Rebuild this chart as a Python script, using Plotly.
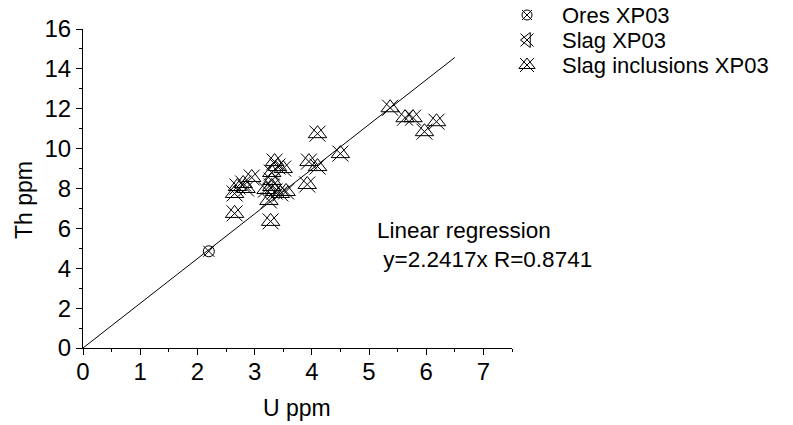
import plotly.graph_objects as go

# ---- data ----
ores_u = [2.2]
ores_th = [4.85]

slag_u = []
slag_th = []

incl_u = [2.65, 2.70, 2.80, 2.85, 2.95, 2.65,
          3.20, 3.25, 3.30, 3.30, 3.35, 3.40, 3.35, 3.45, 3.50, 3.55, 3.28, 3.30,
          3.92, 3.95, 4.10, 4.10, 4.50,
          5.37, 5.63, 5.77, 5.97, 6.18]
incl_th = [7.75, 8.10, 8.25, 8.00, 8.55, 6.75,
           7.95, 7.40, 8.80, 8.40, 9.35, 9.10, 7.85, 7.75, 9.00, 7.85, 6.35, 8.10,
           8.20, 9.35, 9.10, 10.75, 9.75,
           12.05, 11.55, 11.55, 10.85, 11.35]

slope = 2.2417
r_value = 0.8741
fit_x = [0, 6.5]
fit_y = [slope * v for v in fit_x]

legend_labels = ["Ores XP03", "Slag XP03", "Slag inclusions XP03"]
x_title = "U ppm"
y_title = "Th ppm"

FONT = "Liberation Sans, Arial, sans-serif"
W, H = 793, 425
L, R, T, B = 83, 5, 5, 77
pw, ph = W - L - R, H - T - B
x_end_px, y_top_px = 512, 29
xdom = [0, (x_end_px - L) / pw]
ydom = [0, (H - B - y_top_px) / ph]

def px_to_paper(xp, yp):
    return (xp - L) / pw, (H - B - yp) / ph

fig = go.Figure()

fig.add_trace(go.Scatter(x=fit_x, y=fit_y, mode="lines",
                         line=dict(color="black", width=1), showlegend=False))

def add_pts(xs, ys, symbols, size, xa="x", ya="y"):
    for s in symbols:
        fig.add_trace(go.Scatter(x=xs, y=ys, mode="markers", xaxis=xa, yaxis=ya,
                                 marker=dict(symbol=s, size=size, color="black",
                                             line=dict(color="black", width=1)),
                                 showlegend=False, hoverinfo="x+y"))

add_pts(ores_u, ores_th, ["circle-open", "x-thin-open"], 11)
add_pts(slag_u, slag_th, ["triangle-left-open", "x-thin-open"], 14)
add_pts(incl_u, incl_th, ["triangle-up-open", "x-thin-open"], 16)

# ---- custom legend on a pixel-coordinate overlay axis ----
lx_px = 527
rows_px = [15, 40, 65]
sym_sets = [(["circle-open", "x-thin-open"], 10),
            (["triangle-left-open", "x-thin-open"], 13),
            (["triangle-up-open", "x-thin-open"], 14)]
for ypx, (syms, sz) in zip(rows_px, sym_sets):
    add_pts([lx_px], [ypx], syms, sz, xa="x2", ya="y2")
for ypx, lab in zip(rows_px, legend_labels):
    fig.add_annotation(x=561, y=ypx, xref="x2", yref="y2", text=lab, showarrow=False,
                       xanchor="left", yanchor="middle", borderpad=0,
                       font=dict(family=FONT, size=22, color="black"))

# axis titles (paper coordinates, outside the plot area)
ux, uy = px_to_paper(297, 408)
fig.add_annotation(x=ux, y=uy, xref="paper", yref="paper", text=x_title, showarrow=False,
                   xanchor="center", yanchor="middle", font=dict(family=FONT, size=23))
tx, ty = px_to_paper(24, 200)
fig.add_annotation(x=tx, y=ty, xref="paper", yref="paper", text=y_title, showarrow=False,
                   textangle=-90, xanchor="center", yanchor="middle",
                   font=dict(family=FONT, size=23))

fig.add_annotation(x=5.1, y=5.15, xref="x", yref="y",
                   text="Linear regression<br> y=%.4fx R=%.4f" % (slope, r_value),
                   showarrow=False, xanchor="left", yanchor="middle", align="left",
                   font=dict(family=FONT, size=22.5, color="black"))

fig.update_layout(
    width=W, height=H, margin=dict(l=L, r=R, t=T, b=B, autoexpand=False),
    paper_bgcolor="white", plot_bgcolor="rgba(0,0,0,0)",
    font=dict(family=FONT, color="black"),
    showlegend=False,
    xaxis=dict(domain=xdom, range=[0, 7.5], dtick=1, tick0=0, automargin=False,
               showgrid=False, zeroline=False, showline=True, linecolor="black",
               linewidth=1, ticks="outside", ticklen=6, tickcolor="black",
               minor=dict(dtick=0.5, ticks="outside", ticklen=3, tickcolor="black"),
               tickfont=dict(size=24), ticklabelstandoff=-4, anchor="y"),
    yaxis=dict(domain=ydom, range=[0, 16], dtick=2, tick0=0, automargin=False,
               showgrid=False, zeroline=False, showline=True, linecolor="black",
               linewidth=1, ticks="outside", ticklen=6, tickcolor="black",
               minor=dict(dtick=1, ticks="outside", ticklen=3, tickcolor="black"),
               tickfont=dict(size=24), anchor="x"),
    xaxis2=dict(domain=[0, 1], range=[L, W - R], visible=False, anchor="y2",
                fixedrange=True, automargin=False),
    yaxis2=dict(domain=[0, 1], range=[H - B, T], visible=False, anchor="x2",
                fixedrange=True, automargin=False),
)

fig.write_html("out.html")
